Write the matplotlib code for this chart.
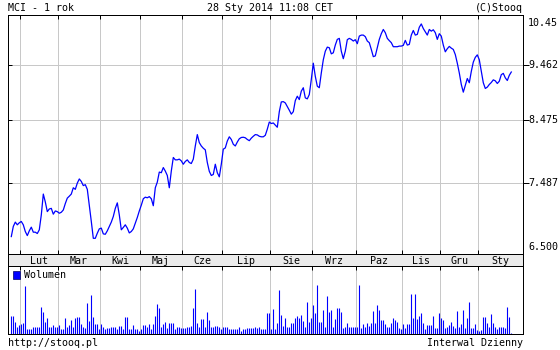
import matplotlib
matplotlib.use('agg')
import matplotlib.pyplot as plt
import numpy as np
from matplotlib.patches import Patch
from matplotlib.ticker import FixedLocator, NullLocator, NullFormatter

# MCI, notowania dzienne (zamknięcie), ostatni rok
kurs = [
    6.729, 6.866, 6.925, 6.888, 6.916, 6.934, 6.888, 6.797, 6.742, 6.806,
    6.856, 6.788, 6.788, 6.770, 6.820, 7.025, 7.322, 7.208, 7.071, 7.108,
    7.117, 7.035, 7.080, 7.071, 7.048, 7.062, 7.094, 7.185, 7.263, 7.291,
    7.322, 7.414, 7.391, 7.483, 7.545, 7.508, 7.446, 7.460, 7.391, 7.162,
    6.934, 6.706, 6.706, 6.774, 6.833, 6.843, 6.765, 6.760, 6.806, 6.866,
    6.925, 7.003, 7.117, 7.195, 7.025, 6.820, 6.852, 6.888, 6.843, 6.778,
    6.797, 6.833, 6.911, 6.989, 7.080, 7.162,
    7.254, 7.277, 7.268, 7.285, 7.254, 7.154, 7.414, 7.498, 7.649, 7.639,
    7.718, 7.664, 7.597, 7.414, 7.664, 7.874, 7.837, 7.837, 7.848, 7.821,
    7.769, 7.812, 7.837, 7.796, 7.780, 7.848, 8.056, 8.240, 8.110, 8.056,
    8.020, 7.994, 7.796, 7.660, 7.597, 7.613, 7.769, 7.639, 7.577, 7.769,
    8.005, 8.025, 8.135, 8.204, 8.161, 8.083, 8.056, 8.119, 8.172, 8.193,
    8.197, 8.188, 8.161, 8.141, 8.182, 8.213, 8.240, 8.235, 8.213, 8.204,
    8.204, 8.229, 8.329, 8.448, 8.423, 8.433, 8.397, 8.361,
    8.624, 8.792, 8.798, 8.775, 8.713, 8.649, 8.582, 8.624, 8.816, 8.893,
    8.834, 8.983, 9.044, 8.864, 8.846, 8.923, 9.193, 9.496, 9.252, 9.072,
    9.044, 9.313, 9.561, 9.725, 9.804, 9.792, 9.674, 9.694, 9.844, 9.956,
    9.976, 9.725, 9.581, 9.725, 9.950, 9.976, 9.956, 9.923, 9.950, 9.871,
    10.021, 10.041, 10.041, 10.010, 9.923, 9.891, 9.759, 9.620, 9.634, 9.792,
    9.956, 10.069, 10.154, 10.089, 9.976, 9.931, 9.891, 9.812, 9.812, 9.812,
    9.824, 9.824, 9.838, 9.936, 9.844, 9.857, 10.041, 10.134, 10.041, 10.055,
    10.199, 10.266, 10.173, 10.108, 10.041, 10.154, 10.120, 10.148, 10.089, 9.956,
    10.069, 10.021, 9.844, 9.713, 9.773, 9.818, 9.784, 9.759, 9.660, 9.496,
    9.313, 9.103, 8.965, 9.090, 9.211, 9.134, 9.342, 9.516, 9.607, 9.654,
    9.561, 9.342, 9.134, 9.031, 9.055, 9.103, 9.139, 9.187, 9.169, 9.121,
    9.162, 9.282, 9.306, 9.223, 9.175, 9.270, 9.331,
]

# wolumen (tys. szt.)
wolumen = [
    54, 54, 37, 22, 27, 30, 34, 144, 14, 14,
    14, 22, 20, 22, 22, 82, 67, 37, 47, 22,
    22, 27, 20, 22, 27, 15, 15, 49, 20, 27,
    42, 22, 47, 50, 52, 29, 22, 17, 94, 40,
    117, 52, 30, 30, 15, 30, 20, 14, 17, 17,
    20, 22, 22, 14, 25, 25, 14, 52, 52, 14,
    14, 27, 14, 14, 10, 14, 27, 27, 22, 30,
    14, 30, 54, 90, 77, 22, 30, 37, 17, 32,
    32, 32, 14, 22, 20, 17, 17, 17, 20, 22,
    25, 77, 135, 32, 22, 44, 44, 22, 65, 42,
    22, 22, 25, 25, 22, 14, 22, 22, 22, 14,
    14, 14, 14, 14, 22, 10, 14, 14, 17, 17,
    17, 17, 22, 17, 22, 14, 14, 14, 62, 62,
    14, 74, 14, 32, 134,
    57, 24, 49, 22, 22, 32, 32, 47, 54, 49,
    57, 40, 22, 97, 37, 49, 87, 62, 147, 37,
    37, 72, 22, 114, 67, 72, 20, 44, 77, 77,
    67, 17, 22, 32, 22, 22, 22, 22, 22, 147,
    17, 30, 22, 32, 25, 32, 69, 32, 87, 72,
    42, 42, 30, 22, 22, 32, 47, 42, 37, 17,
    15, 30, 17, 30, 30, 120, 47, 120, 44, 54,
    64, 32, 16, 27, 27, 27, 54, 17, 17, 62,
    47, 42, 17, 20, 27, 37, 25, 17, 69, 22,
    30, 72, 17, 47, 96, 17, 17, 29, 12, 10,
    12, 52, 52, 32, 20, 60, 32, 22, 15, 22,
    22, 22, 17, 82, 52, 2,
]

miesiace = ['Lut', 'Mar', 'Kwi', 'Maj', 'Cze', 'Lip',
            'Sie', 'Wrz', 'Paz', 'Lis', 'Gru', 'Sty']
# indeks pierwszej sesji w miesiącu
poczatek_miesiaca = [5, 24, 45, 65, 86, 106, 130, 151, 173, 196, 215, 234]

poziomy = [6.5, 7.487, 8.475, 9.462, 10.45]
etykiety_poziomow = ['6.500', '7.487', '8.475', '9.462', '10.45']

NIEBIESKI = '#0000ff'
SIATKA = '#c8c8c8'
FS = 7.2
LW = 0.72  # ~1px

plt.rcParams['font.family'] = ['DejaVu Sans Mono']
plt.rcParams['font.size'] = FS

W, H = 560, 350
fig = plt.figure(figsize=(W / 100, H / 100), dpi=100)


def px_rect(left, top, right, bottom):
    return [left / W, 1 - bottom / H, (right - left) / W, (bottom - top) / H]


ax = fig.add_axes(px_rect(8, 15, 523, 254))
pasek = fig.add_axes(px_rect(8, 254, 523, 266))
ax_vol = fig.add_axes(px_rect(8, 266, 523, 334))

x = np.arange(len(kurs))
xlim = (-1.65, 255.85)
granice = np.array(poczatek_miesiaca) - 0.6
srodki = (granice + np.r_[granice[1:], xlim[1]]) / 2

for a in (ax, pasek, ax_vol):
    a.set_xlim(*xlim)
    for s in a.spines.values():
        s.set_linewidth(LW)
        s.set_color('black')

# --- wykres kursu ---
ax.plot(x, kurs, color=NIEBIESKI, lw=0.9)
ax.set_yscale('log')
ax.set_ylim(poziomy[0], poziomy[-1])
ax.yaxis.set_major_locator(FixedLocator(poziomy[1:-1]))
ax.yaxis.set_minor_locator(NullLocator())
ax.yaxis.set_major_formatter(NullFormatter())
ax.yaxis.set_minor_formatter(NullFormatter())
ax.set_xticks(granice)
ax.tick_params(axis='x', direction='in', top=True, bottom=True,
               labelbottom=False, length=3, width=LW)
ax.tick_params(axis='y', direction='in', left=True, right=False,
               length=3, width=LW)
ax.grid(True, color=SIATKA, lw=LW)
ax.set_axisbelow(True)

ax_r = ax.twinx()
ax_r.set_yscale('log')
ax_r.set_ylim(poziomy[0], poziomy[-1])
ax_r.yaxis.set_major_locator(FixedLocator(poziomy[1:-1]))
ax_r.yaxis.set_minor_locator(NullLocator())
ax_r.yaxis.set_major_formatter(NullFormatter())
ax_r.yaxis.set_minor_formatter(NullFormatter())
ax_r.tick_params(axis='y', direction='out', length=4, width=LW)
for s in ax_r.spines.values():
    s.set_linewidth(LW)

przesuniecia = [7, 0, 0, 0, -8]
for v, lab, dy in zip(poziomy, etykiety_poziomow, przesuniecia):
    ax.annotate(lab, xy=(1, v), xycoords=('axes fraction', 'data'),
                xytext=(5, dy), textcoords='offset pixels',
                ha='left', va='center', annotation_clip=False)

# --- pasek z nazwami miesięcy ---
pasek.set_facecolor('#ebebeb')
pasek.set_xticks([])
pasek.set_yticks([])
for sx, m in zip(srodki, miesiace):
    pasek.text(sx, 0.45, m, transform=pasek.get_xaxis_transform(),
               ha='center', va='center')

# --- wolumen ---
ax_vol.vlines(x, 0, wolumen, colors=NIEBIESKI, lw=0.8)
ax_vol.set_ylim(0, 205)
ax_vol.set_yticks([])
ax_vol.set_xticks(granice)
ax_vol.tick_params(axis='x', direction='in', top=True, bottom=False,
                   labelbottom=False, length=3, width=LW)
ax_vol.grid(True, axis='x', color=SIATKA, lw=LW)
ax_vol.set_axisbelow(True)
ax_vol.legend(handles=[Patch(facecolor=NIEBIESKI, edgecolor='#000060',
                             lw=0.5, label='Wolumen')],
              loc='upper left', frameon=False, fontsize=FS,
              handlelength=0.75, handleheight=0.75, handletextpad=0.4,
              borderaxespad=0.25, borderpad=0.2)

# --- napisy ---
fig.text(8 / W, 1 - 8 / H, 'MCI - 1 rok', ha='left', va='center')
fig.text(207 / W, 1 - 8 / H, '28 Sty 2014 11:08 CET', ha='left', va='center')
fig.text(523 / W, 1 - 8 / H, '(C)Stooq', ha='right', va='center')
fig.text(8 / W, 1 - 343.5 / H, 'http://stooq.pl', ha='left', va='center')
fig.text(523 / W, 1 - 343.5 / H, 'Interwal Dzienny', ha='right', va='center')

fig.savefig('out.png', dpi=100)
